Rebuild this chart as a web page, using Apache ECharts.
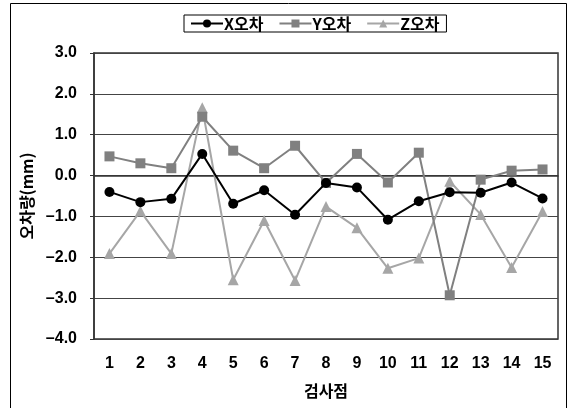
<!DOCTYPE html>
<html>
<head>
<meta charset="utf-8">
<script src="https://cdn.jsdelivr.net/npm/echarts@6/dist/echarts.min.js"></script>
<style>
  html, body { margin: 0; padding: 0; background: #fff; }
  #chart { width: 571px; height: 408px; }
</style>
</head>
<body>
<div id="chart"></div>
<script>
// 검사점 1..15
var points = ['1', '2', '3', '4', '5', '6', '7', '8', '9', '10', '11', '12', '13', '14', '15']
var xErr = [-0.40, -0.65, -0.57, 0.53, -0.69, -0.36, -0.96, -0.18, -0.29, -1.08, -0.63, -0.41, -0.42, -0.17, -0.56]
var yErr = [0.47, 0.30, 0.18, 1.44, 0.61, 0.18, 0.73, -0.18, 0.53, -0.17, 0.56, -2.93, -0.10, 0.12, 0.15]
var zErr = [-1.91, -0.87, -1.91, 1.66, -2.55, -1.10, -2.57, -0.76, -1.28, -2.27, -2.02, -0.14, -0.95, -2.25, -0.88]
var seriesNames = ['X오차', 'Y오차', 'Z오차']

var latin = '"Liberation Sans", "Noto Sans CJK KR", sans-serif'
var korean = '"Noto Sans CJK KR", "Liberation Sans", sans-serif'

var myChart = echarts.init(document.getElementById('chart'))
var option = {
  animation: false,
  backgroundColor: '#ffffff',
  graphic: [{
    type: 'rect',
    shape: { x: 10.5, y: 3.5, width: 556, height: 430 },
    style: { fill: 'none', stroke: '#000', lineWidth: 1 }
  }],
  legend: {
    left: 184,
    top: 15,
    data: seriesNames,
    itemWidth: 32,
    itemHeight: 10,
    itemGap: 15,
    padding: [0, 7, 0, 6],
    borderColor: '#000',
    borderWidth: 1,
    textStyle: { fontFamily: korean, fontWeight: 'bold', fontSize: 16, lineHeight: 17, color: '#000', padding: [0, 0, 0, -4] }
  },
  grid: {
    left: 94,
    right: 13,
    top: 53,
    bottom: 69,
    show: true,
    borderColor: '#333',
    borderWidth: 1.5
  },
  xAxis: {
    type: 'category',
    data: points,
    name: '검사점',
    nameLocation: 'middle',
    nameGap: 44,
    nameTextStyle: { fontFamily: korean, fontWeight: 'bold', fontSize: 16, color: '#000' },
    axisLine: { lineStyle: { color: '#333', width: 1.5 } },
    axisTick: { show: false },
    axisLabel: { margin: 17, fontFamily: latin, fontWeight: 'bold', fontSize: 16, color: '#000' }
  },
  yAxis: {
    type: 'value',
    min: -4,
    max: 3,
    interval: 1,
    name: '오차량(mm)',
    nameLocation: 'middle',
    nameGap: 56,
    nameRotate: 90,
    nameTextStyle: { fontFamily: korean, fontWeight: 'bold', fontSize: 16, color: '#000' },
    axisLine: { show: true, lineStyle: { color: '#333', width: 1.5 } },
    axisTick: { show: true, length: 4, lineStyle: { color: '#333' } },
    axisLabel: {
      margin: 17,
      fontFamily: latin,
      fontWeight: 'bold',
      fontSize: 16,
      color: '#000',
      formatter: function (v) {
        return v.toFixed(1).replace('-', '\u2013')
      }
    },
    splitLine: { lineStyle: { color: '#444', width: 1 } }
  },
  series: [
    {
      name: seriesNames[0],
      type: 'line',
      data: xErr,
      z: 4,
      symbol: 'circle',
      symbolSize: 10,
      lineStyle: { color: '#000', width: 2 },
      itemStyle: { color: '#000' }
    },
    {
      name: seriesNames[1],
      type: 'line',
      data: yErr,
      z: 3,
      symbol: 'rect',
      symbolSize: 10,
      lineStyle: { color: '#808080', width: 2 },
      itemStyle: { color: '#808080' }
    },
    {
      name: seriesNames[2],
      type: 'line',
      data: zErr,
      z: 2,
      symbol: 'triangle',
      symbolSize: 11,
      lineStyle: { color: '#a6a6a6', width: 2 },
      itemStyle: { color: '#a6a6a6' }
    }
  ]
}
myChart.setOption(option)
</script>
</body>
</html>
